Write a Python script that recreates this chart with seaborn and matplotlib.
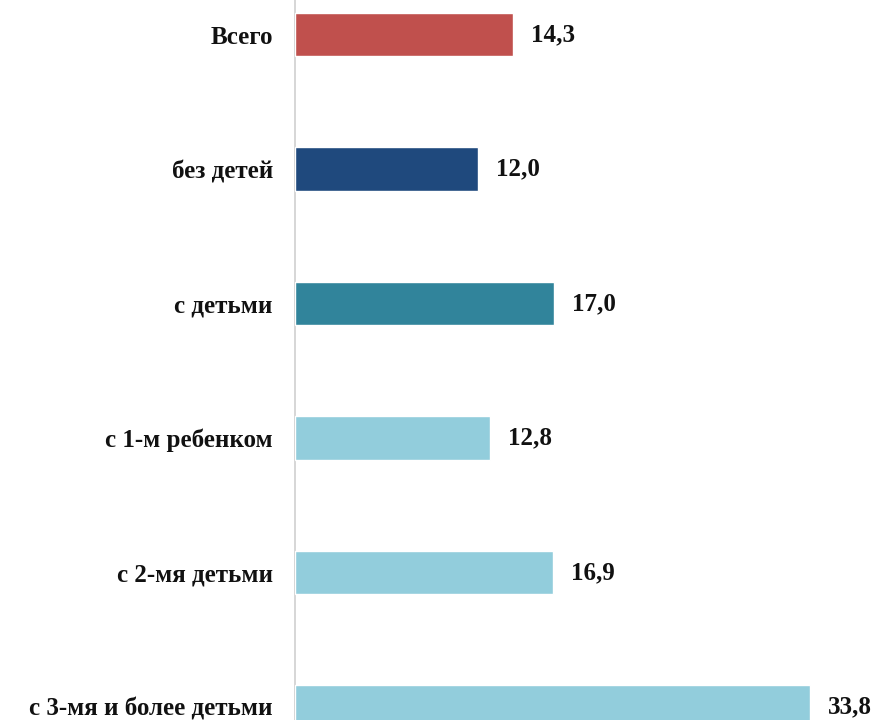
import matplotlib
matplotlib.use("Agg")
import matplotlib.pyplot as plt
import seaborn as sns
import pandas as pd

categories = ["Всего", "без детей", "с детьми", "с 1-м ребенком", "с 2-мя детьми", "с 3-мя и более детьми"]
values = [14.3, 12.0, 17.0, 12.8, 16.9, 33.8]
colors = ["#C0504D", "#1F497D", "#31849B", "#92CDDC", "#92CDDC", "#92CDDC"]

df = pd.DataFrame({"cat": categories, "val": values})

sns.set_style("white")
plt.rcParams["font.family"] = ["Liberation Serif", "DejaVu Serif"]

fig = plt.figure(figsize=(8.82, 7.2), dpi=100)
ax = fig.add_axes([295 / 882, 0, 587 / 882, 1])

sns.barplot(data=df, x="val", y="cat", hue="cat", palette=colors, legend=False,
            width=0.32, ax=ax, saturation=1)

ax.set_xlim(0, 587 / 15.24)
ax.set_ylim((720 - 34.5) / 134.5, -34.5 / 134.5)

for s in ["top", "right", "bottom"]:
    ax.spines[s].set_visible(False)
ax.spines["left"].set_color("#D0D0D0")
ax.spines["left"].set_linewidth(1.2)
ax.spines["left"].set_zorder(0)

ax.set_xticks([])
ax.set_xlabel("")
ax.set_ylabel("")
ax.tick_params(axis="y", length=0, pad=16)
for lbl in ax.get_yticklabels():
    lbl.set_fontsize(18)
    lbl.set_fontweight("bold")
    lbl.set_color("#111111")

for i, v in enumerate(values):
    ax.annotate(f"{v:.1f}".replace(".", ","), xy=(v, i), xytext=(18, 0),
                textcoords="offset pixels",
                va="center", ha="left", fontsize=18, fontweight="bold", color="#111111")

fig.savefig("out.png", dpi=100)
